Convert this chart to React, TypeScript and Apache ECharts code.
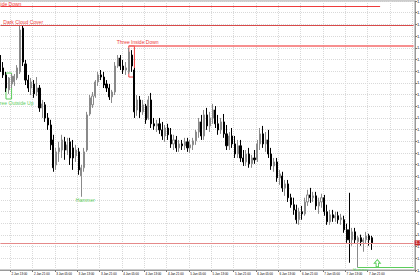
import { useEffect, useRef } from "react";
import * as echarts from "echarts";

// Candle values (open, close, low, high)
const opens = [
  1.19948, 1.19914, 1.19884, 1.1982, 1.19845, 1.19854, 1.19871, 1.19897, 1.20084, 1.19931,
  1.19862, 1.19828, 1.19845, 1.19811, 1.19828, 1.19743, 1.19756, 1.197, 1.1967, 1.19606,
  1.19499, 1.19555, 1.19563, 1.19598, 1.19563, 1.19598, 1.19572, 1.19538, 1.19555, 1.19452,
  1.19487, 1.19563, 1.19717, 1.19756, 1.19794, 1.19854, 1.19884, 1.19875, 1.19845, 1.19828,
  1.1979, 1.19811, 1.19922, 1.19956, 1.19922, 1.19905, 1.19897, 1.19969, 1.19905, 1.19734,
  1.19777, 1.19726, 1.19751, 1.197, 1.19777, 1.19675, 1.19666, 1.19675, 1.19649, 1.19623,
  1.19657, 1.19628, 1.19589, 1.19606, 1.19572, 1.19589, 1.19581, 1.19598, 1.19572, 1.19585,
  1.19602, 1.1964, 1.19683, 1.19623, 1.19713, 1.19666, 1.197, 1.19734, 1.19675, 1.19649,
  1.19683, 1.19632, 1.19581, 1.19623, 1.19589, 1.19546, 1.19581, 1.19529, 1.19512, 1.19546,
  1.19504, 1.19529, 1.19521, 1.19589, 1.19632, 1.19589, 1.19606, 1.19546, 1.19495, 1.19512,
  1.19444, 1.19452, 1.19401, 1.19418, 1.19359, 1.19329, 1.19307, 1.19265, 1.19299, 1.1929,
  1.19341, 1.19371, 1.19359, 1.19367, 1.19324, 1.19341, 1.19359, 1.19299, 1.19256, 1.19286,
  1.19273, 1.19282, 1.19265, 1.19265, 1.19222, 1.19222, 1.19179, 1.19213, 1.19171, 1.19188,
  1.19171, 1.19179, 1.19196, 1.19188,
];
const closes = [
  1.19914, 1.19884, 1.19828, 1.19871, 1.19879, 1.19879, 1.19914, 1.20076, 1.19939, 1.19862,
  1.19828, 1.19854, 1.19803, 1.19828, 1.19743, 1.1976, 1.197, 1.1967, 1.19585, 1.19487,
  1.19555, 1.19572, 1.19606, 1.19563, 1.19585, 1.19529, 1.19529, 1.19563, 1.19478, 1.19487,
  1.19555, 1.19713, 1.19786, 1.19794, 1.19854, 1.19884, 1.19875, 1.19841, 1.19828, 1.1979,
  1.19811, 1.19922, 1.19956, 1.19922, 1.19905, 1.19914, 1.19982, 1.19922, 1.19726, 1.19777,
  1.19726, 1.19756, 1.19692, 1.19777, 1.19675, 1.19666, 1.19675, 1.19649, 1.19623, 1.19657,
  1.19628, 1.19589, 1.19606, 1.19572, 1.19589, 1.19581, 1.19598, 1.19572, 1.19585, 1.19602,
  1.1964, 1.19683, 1.19623, 1.19713, 1.19666, 1.197, 1.19734, 1.19675, 1.19649, 1.19683,
  1.19632, 1.19581, 1.19623, 1.19589, 1.19546, 1.19581, 1.19529, 1.19512, 1.19546, 1.19504,
  1.19529, 1.19521, 1.19589, 1.19632, 1.19589, 1.19606, 1.19546, 1.19495, 1.19512, 1.19444,
  1.19461, 1.19401, 1.19418, 1.19359, 1.19329, 1.19307, 1.19265, 1.19299, 1.1929, 1.19341,
  1.19371, 1.19359, 1.19367, 1.19324, 1.19341, 1.19359, 1.19299, 1.19256, 1.19286, 1.19273,
  1.19282, 1.19265, 1.19273, 1.19222, 1.19179, 1.19179, 1.19213, 1.19179, 1.19188, 1.19171,
  1.19179, 1.19196, 1.19179, 1.19166,
];
const lows = [
  1.19897, 1.19871, 1.19811, 1.19803, 1.19828, 1.19837, 1.19862, 1.19888, 1.19922, 1.19841,
  1.19811, 1.19798, 1.19786, 1.19794, 1.19726, 1.197, 1.19683, 1.19649, 1.19563, 1.1947,
  1.19478, 1.19512, 1.19529, 1.19521, 1.19542, 1.19499, 1.19478, 1.19512, 1.19457, 1.19363,
  1.1947, 1.19555, 1.19709, 1.19743, 1.19786, 1.19837, 1.19862, 1.19828, 1.19811, 1.19777,
  1.19764, 1.19798, 1.19914, 1.19905, 1.19888, 1.19884, 1.19888, 1.19897, 1.197, 1.19709,
  1.197, 1.19713, 1.19675, 1.19692, 1.19657, 1.19649, 1.1964, 1.19632, 1.19606, 1.19598,
  1.19606, 1.19572, 1.19563, 1.19555, 1.19555, 1.19563, 1.19563, 1.19555, 1.19551, 1.19563,
  1.19585, 1.19615, 1.19606, 1.19606, 1.19649, 1.1964, 1.19675, 1.19657, 1.19628, 1.19632,
  1.19615, 1.19563, 1.19563, 1.19572, 1.19529, 1.19529, 1.19512, 1.19495, 1.19495, 1.19487,
  1.19487, 1.19504, 1.19512, 1.19563, 1.19572, 1.19555, 1.19529, 1.19478, 1.1947, 1.19427,
  1.19414, 1.19384, 1.19367, 1.19341, 1.19316, 1.19286, 1.19248, 1.19243, 1.19265, 1.19282,
  1.19324, 1.19337, 1.19341, 1.19307, 1.1929, 1.19316, 1.19282, 1.19243, 1.19243, 1.19256,
  1.19256, 1.19248, 1.19243, 1.19209, 1.19166, 1.19081, 1.19154, 1.19162, 1.1906, 1.19154,
  1.19128, 1.19162, 1.19154, 1.19136,
];
const highs = [
  1.19969, 1.19939, 1.19897, 1.19875, 1.19888, 1.19888, 1.19926, 1.20097, 1.20093, 1.19948,
  1.19884, 1.19871, 1.19862, 1.19875, 1.19841, 1.19777, 1.19768, 1.19721, 1.19692, 1.19628,
  1.19572, 1.19598, 1.19628, 1.19619, 1.19615, 1.19615, 1.19606, 1.19585, 1.19572, 1.19499,
  1.19572, 1.19726, 1.19798, 1.19811, 1.19862, 1.19897, 1.19905, 1.19897, 1.19862, 1.19845,
  1.1982, 1.19939, 1.19969, 1.19969, 1.19948, 1.19939, 1.19999, 1.1999, 1.19914, 1.19798,
  1.19794, 1.19777, 1.1976, 1.19794, 1.19807, 1.197, 1.19692, 1.197, 1.19683, 1.1967,
  1.19675, 1.19657, 1.19628, 1.19623, 1.19606, 1.19606, 1.19615, 1.19615, 1.19606, 1.19615,
  1.19649, 1.197, 1.19713, 1.19734, 1.19743, 1.19726, 1.1976, 1.19751, 1.19713, 1.197,
  1.19717, 1.1967, 1.1964, 1.19657, 1.19623, 1.19606, 1.19606, 1.19563, 1.19563, 1.19572,
  1.19542, 1.19563, 1.19606, 1.19657, 1.19666, 1.1964, 1.19649, 1.19572, 1.19529, 1.19529,
  1.19478, 1.1947, 1.19435, 1.19435, 1.19376, 1.19359, 1.19329, 1.19316, 1.19324, 1.19359,
  1.19393, 1.19401, 1.19384, 1.19384, 1.19359, 1.19376, 1.19371, 1.19329, 1.19307, 1.19307,
  1.19299, 1.19299, 1.1929, 1.19282, 1.19248, 1.1938, 1.1923, 1.1923, 1.19196, 1.19201,
  1.19188, 1.19213, 1.19205, 1.19196,
];

// Pattern levels (prices) and positions (candle indices)
const threeInsideDownTop = 1.20178;
const darkCloudLevel = 1.20097;
const threeInsideDownLevel = 1.20008;
const threeInsideDownBottom = 1.19875;
const threeOutsideUpTop = 1.19892;
const threeOutsideUpBottom = 1.19781;
const hammerLow = 1.19363;
const hammer2Low = 1.1906;
const arrowLevel = 1.19079;
const currentPrice = 1.19166;

const slotCount = 149;
const startDay = 2;
const startHour = 9;
const categories: string[] = [];
for (let i = 0; i < slotCount; i++) {
  const t = startHour + i;
  const d = startDay + Math.floor(t / 24);
  const h = t % 24;
  categories.push(`${d} Jan ${h < 10 ? "0" + h : h}:00`);
}
const lastIndex = opens.length - 1;

const RED = "#ee3b3b";
const GREEN = "#5ccd5c";
const FONT = "Liberation Sans";

export default function App() {
  const ref = useRef<HTMLDivElement>(null);
  useEffect(() => {
    if (!ref.current) return;
    const chart = echarts.init(ref.current, null, { renderer: "svg" });
    const data = opens.map((o, i) => [o, closes[i], lows[i], highs[i]]);
    const labelIdx = (i: number) => i % 8 === 4;
    chart.setOption({
      animation: false,
      backgroundColor: "#ffffff",
      textStyle: { fontFamily: FONT },
      grid: {
        left: -1,
        right: 5,
        top: 1,
        bottom: 10,
        show: true,
        borderColor: "#9a9a9a",
        borderWidth: 1,
        containLabel: false,
        outerBoundsMode: "none",
      },
      xAxis: {
        type: "category",
        data: categories,
        boundaryGap: true,
        axisLine: { show: true, lineStyle: { color: "#9a9a9a", width: 1 } },
        axisTick: { show: true, length: 2, interval: (i: number) => labelIdx(i) && i <= lastIndex, lineStyle: { color: "#777" } },
        axisLabel: {
          interval: (i: number) => labelIdx(i) && i <= lastIndex,
          align: "left",
          fontSize: 3,
          margin: 2,
          color: "#000",
          fontFamily: FONT,
        },
        splitLine: {
          show: true,
          interval: (i: number) => labelIdx(i),
          lineStyle: { color: "#d9d9d9", type: "dotted", width: 1 },
        },
      },
      yAxis: {
        type: "value",
        position: "right",
        min: 1.1905,
        max: 1.202,
        interval: 0.0005,
        axisLine: { show: true, lineStyle: { color: "#9a9a9a", width: 1 } },
        axisTick: { show: true, length: 2, lineStyle: { color: "#777" } },
        axisLabel: {
          fontSize: 4,
          margin: 2,
          color: "#000",
          fontFamily: FONT,
          formatter: (v: number) => v.toFixed(5),
        },
        splitLine: { show: true, lineStyle: { color: "#d9d9d9", type: "dotted", width: 1 } },
      },
      series: [
        {
          type: "candlestick",
          data,
          barWidth: 1.6,
          itemStyle: {
            color: "#ffffff",
            color0: "#000000",
            borderColor: "#8a8a8a",
            borderColor0: "#000000",
            borderWidth: 1,
          },
          markArea: {
            silent: true,
            data: [
              [
                {
                  coord: [2, threeOutsideUpTop],
                  itemStyle: { color: "rgba(0,0,0,0)", borderColor: GREEN, borderWidth: 1 },
                },
                { coord: [4, threeOutsideUpBottom] },
              ],
              [
                {
                  coord: [46, threeInsideDownLevel],
                  itemStyle: { color: "rgba(0,0,0,0)", borderColor: RED, borderWidth: 1 },
                },
                { coord: [48, threeInsideDownBottom] },
              ],
            ],
            label: { show: false },
          },
          markLine: {
            silent: true,
            symbol: ["none", "none"],
            label: { show: false },
            data: [
              [
                { coord: [0, threeInsideDownTop], lineStyle: { color: RED, width: 1, type: "solid" } },
                { coord: [136, threeInsideDownTop] },
              ],
              [
                { coord: [0, darkCloudLevel], lineStyle: { color: "#d84a4a", width: 1, type: "solid" } },
                { coord: [slotCount - 1, darkCloudLevel] },
              ],
              [
                { coord: [46, threeInsideDownLevel], lineStyle: { color: "#f46a6a", width: 1.6, type: "solid" } },
                { coord: [slotCount - 1, threeInsideDownLevel] },
              ],
              [
                { coord: [128, hammer2Low], lineStyle: { color: GREEN, width: 1.2, type: "solid" } },
                { coord: [slotCount - 1, hammer2Low] },
              ],
              [
                {
                  coord: [0, currentPrice],
                  lineStyle: { color: "#e58a8a", width: 1, type: "solid" },
                  label: {
                    show: true,
                    position: "end",
                    distance: 1,
                    formatter: currentPrice.toFixed(5),
                    backgroundColor: "#c62828",
                    color: "#fff",
                    fontSize: 4,
                    padding: [1, 1, 0, 1],
                    fontFamily: FONT,
                  },
                },
                { coord: [slotCount - 1, currentPrice] },
              ],
            ],
          },
          markPoint: {
            silent: true,
            data: [
              {
                coord: [0, threeInsideDownTop],
                symbolSize: 0,
                label: { show: true, position: "top", distance: 0, formatter: "Three Inside Down", color: RED, fontSize: 5, fontFamily: FONT },
              },
              {
                coord: [1, darkCloudLevel],
                symbolSize: 0,
                label: { show: true, position: "top", distance: 1, offset: [20, 0], formatter: "Dark Cloud Cover", color: RED, fontSize: 5, fontFamily: FONT },
              },
              {
                coord: [47, threeInsideDownLevel],
                symbolSize: 0,
                label: { show: true, position: "top", distance: 1, offset: [6, 0], formatter: "Three Inside Down", color: RED, fontSize: 5, fontFamily: FONT },
              },
              {
                coord: [3, threeOutsideUpBottom],
                symbolSize: 0,
                label: { show: true, position: "bottom", distance: 1, offset: [5, 0], formatter: "Three Outside Up", color: GREEN, fontSize: 5, fontFamily: FONT },
              },
              {
                coord: [29, hammerLow],
                symbolSize: 0,
                label: { show: true, position: "bottom", distance: 1, offset: [4, 0], formatter: "Hammer", color: GREEN, fontSize: 5, fontFamily: FONT },
              },
              {
                coord: [128, hammer2Low],
                symbolSize: 0,
                label: { show: true, position: "bottom", distance: 0, offset: [3, 0], formatter: "Hammer", color: GREEN, fontSize: 4, fontFamily: FONT },
              },
              {
                coord: [135, arrowLevel],
                symbol: "path://M5,0 L10,5 L7,5 L7,10 L3,10 L3,5 L0,5 Z",
                symbolSize: [6, 7],
                itemStyle: { color: "rgba(0,0,0,0)", borderColor: GREEN, borderWidth: 1 },
                label: { show: false },
              },
            ],
          },
        },
      ],
    });
    return () => chart.dispose();
  }, []);
  return (
    <div
      ref={ref}
      style={{ position: "absolute", left: 0, top: 0, width: 420, height: 280, overflow: "hidden", background: "#fff" }}
    />
  );
}
